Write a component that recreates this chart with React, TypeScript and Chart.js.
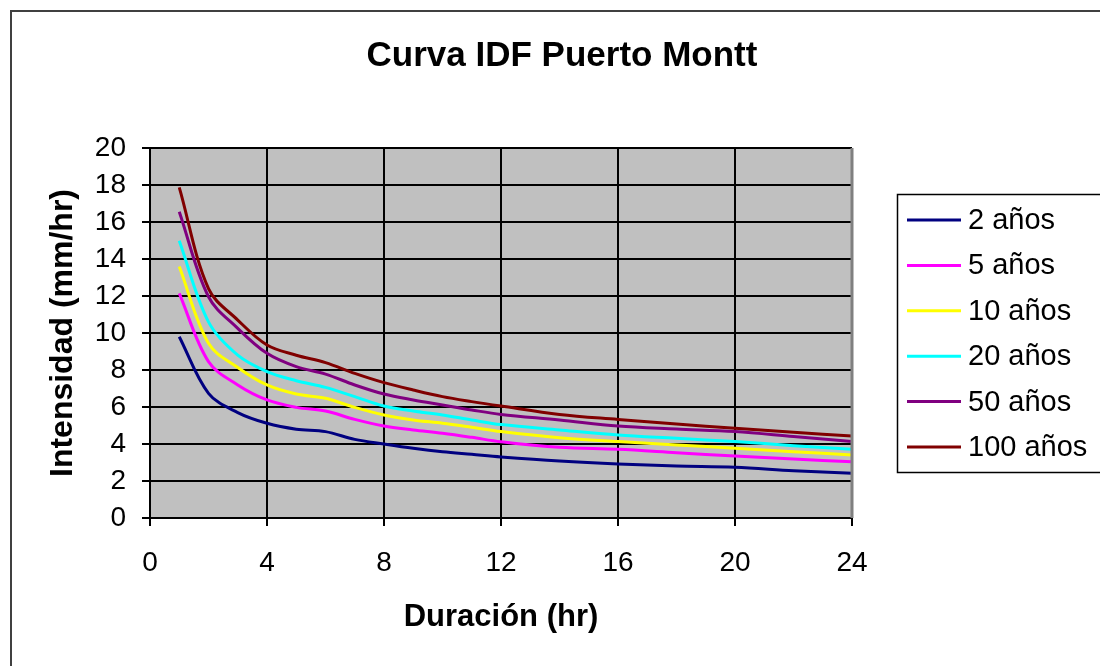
import React, { useEffect, useRef } from "react";
import { Chart, registerables } from "chart.js";

Chart.register(...registerables);

const TITLE = "Curva IDF Puerto Montt";
const X_TITLE = "Duración (hr)";
const Y_TITLE = "Intensidad (mm/hr)";

const durations = [1, 2, 3, 4, 5, 6, 7, 8, 9, 10, 11, 12, 14, 16, 18, 20, 22, 24];
const seriesLabels = ["2 años", "5 años", "10 años", "20 años", "50 años", "100 años"];
const seriesColors = ["#000080", "#FF00FF", "#FFFF00", "#00FFFF", "#800080", "#800000"];

const t2 = [9.8, 6.74, 5.7, 5.12, 4.8, 4.67, 4.25, 4.0, 3.77, 3.58, 3.44, 3.3, 3.08, 2.92, 2.81, 2.74, 2.56, 2.42];
const t5 = [12.14, 8.45, 7.19, 6.38, 5.98, 5.78, 5.33, 4.97, 4.76, 4.58, 4.36, 4.12, 3.82, 3.71, 3.53, 3.35, 3.19, 3.04];
const t10 = [13.59, 9.44, 8.14, 7.19, 6.7, 6.47, 5.98, 5.57, 5.3, 5.12, 4.9, 4.67, 4.34, 4.13, 3.95, 3.77, 3.58, 3.41];
const t20 = [14.99, 10.6, 8.8, 7.91, 7.42, 7.06, 6.56, 6.05, 5.78, 5.57, 5.3, 5.05, 4.76, 4.49, 4.31, 4.13, 3.91, 3.71];
const t50 = [16.56, 11.96, 10.25, 8.9, 8.18, 7.78, 7.19, 6.7, 6.38, 6.11, 5.84, 5.6, 5.3, 4.97, 4.81, 4.67, 4.4, 4.13];
const t100 = [17.87, 12.4, 10.7, 9.35, 8.8, 8.4, 7.82, 7.32, 6.92, 6.56, 6.29, 6.05, 5.6, 5.33, 5.08, 4.85, 4.63, 4.43];

const seriesValues = [t2, t5, t10, t20, t50, t100];

const FONT = '"Liberation Sans", Arial, sans-serif';

const decor = {
  id: "decor",
  beforeDraw(chart: any) {
    const { ctx, chartArea: a } = chart;
    ctx.save();
    ctx.fillStyle = "#ffffff";
    ctx.fillRect(0, 0, chart.width, chart.height);
    ctx.fillStyle = "#C0C0C0";
    ctx.fillRect(a.left, a.top, a.right - a.left, a.bottom - a.top);
    ctx.strokeStyle = "#404040";
    ctx.lineWidth = 2;
    ctx.beginPath();
    ctx.moveTo(11, chart.height + 5);
    ctx.lineTo(11, 11);
    ctx.lineTo(chart.width + 5, 11);
    ctx.stroke();
    ctx.fillStyle = "#000";
    ctx.font = `bold 35px ${FONT}`;
    ctx.textAlign = "center";
    ctx.textBaseline = "alphabetic";
    ctx.fillText(TITLE, 562, 66);
    ctx.restore();
  },
  afterDraw(chart: any) {
    const { ctx, chartArea: a } = chart;
    ctx.save();
    ctx.strokeStyle = "#808080";
    ctx.lineWidth = 3;
    ctx.beginPath();
    ctx.moveTo(a.right, a.top);
    ctx.lineTo(a.right, a.bottom);
    ctx.stroke();
    // legend
    ctx.strokeStyle = "#000";
    ctx.lineWidth = 1.5;
    ctx.strokeRect(897.5, 194.5, 230, 278);
    ctx.font = `29px ${FONT}`;
    ctx.textAlign = "left";
    ctx.textBaseline = "middle";
    chart.data.datasets.forEach((ds: any, i: number) => {
      const y = 220 + i * 45.4;
      ctx.strokeStyle = ds.borderColor;
      ctx.lineWidth = 3;
      ctx.beginPath();
      ctx.moveTo(907, y);
      ctx.lineTo(961, y);
      ctx.stroke();
      ctx.fillStyle = "#000";
      ctx.fillText(ds.label, 968, y + 1);
    });
    ctx.restore();
  },
};

export default function App() {
  const ref = useRef<HTMLCanvasElement>(null);
  useEffect(() => {
    if (!ref.current) return;
    const chart = new Chart(ref.current, {
      type: "line",
      data: {
        datasets: seriesLabels.map((label, i) => ({
          label,
          data: durations.map((d, j) => ({ x: d, y: seriesValues[i][j] })),
          borderColor: seriesColors[i],
          backgroundColor: seriesColors[i],
          borderWidth: 3,
          pointRadius: 0,
          tension: 0.35,
          fill: false,
        })),
      },
      options: {
        animation: false,
        responsive: false,
        devicePixelRatio: 1,
        layout: { padding: { left: 44, top: 148, right: 248, bottom: 0 } },
        plugins: { legend: { display: false }, title: { display: false }, tooltip: { enabled: false } },
        scales: {
          x: {
            type: "linear",
            min: 0,
            max: 24,
            ticks: { stepSize: 4, color: "#000", font: { family: FONT, size: 28 }, padding: 20, maxRotation: 0 },
            grid: { color: "#000", lineWidth: 2, tickLength: 8, tickColor: "#000", drawTicks: true },
            border: { color: "#000", width: 2 },
            title: { display: true, text: X_TITLE, color: "#000", font: { family: FONT, size: 31, weight: "bold" }, padding: { top: 0, bottom: 30 } },
            afterFit: (s: any) => { s.height = 148; },
          },
          y: {
            min: 0,
            max: 20,
            ticks: { stepSize: 2, color: "#000", font: { family: FONT, size: 28 }, padding: 16 },
            grid: { color: "#000", lineWidth: 2, tickLength: 8, tickColor: "#000", drawTicks: true },
            border: { color: "#000", width: 2 },
            title: { display: true, text: Y_TITLE, color: "#000", font: { family: FONT, size: 32, weight: "bold" }, padding: { top: 0, bottom: 0 } },
            afterFit: (s: any) => { s.width = 106; },
          },
        },
      },
      plugins: [decor],
    });
    return () => chart.destroy();
  }, []);
  return (
    <div style={{ position: "fixed", left: 0, top: 0, width: 1100, height: 666 }}>
      <canvas ref={ref} width={1100} height={666} style={{ width: 1100, height: 666, display: "block" }} />
    </div>
  );
}
